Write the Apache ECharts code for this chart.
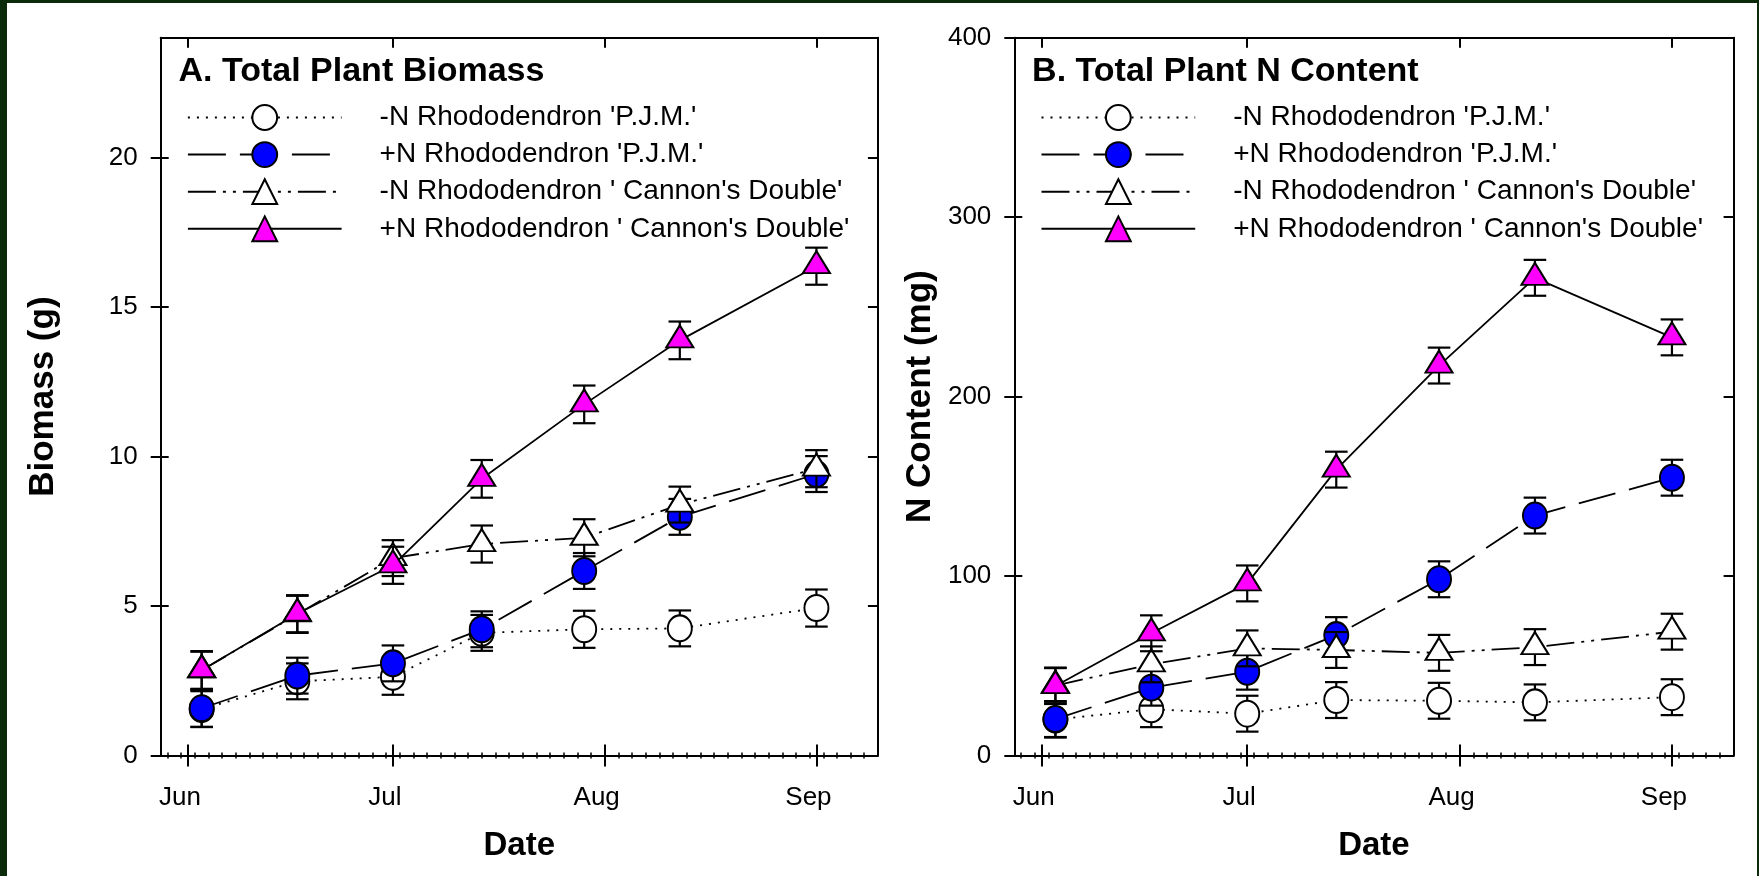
<!DOCTYPE html>
<html><head><meta charset="utf-8">
<script src="https://cdn.jsdelivr.net/npm/echarts@6/dist/echarts.min.js"></script>
<style>
html,body{margin:0;padding:0;background:#fff;}
#chart{position:absolute;left:0;top:0;width:1759px;height:876px;}
#frame{position:absolute;left:0;top:0;width:1759px;height:876px;box-sizing:border-box;border-left:7px solid #0a2a0a;border-top:3px solid #0a2a0a;border-right:2px solid #0a2a0a;pointer-events:none;}
</style></head><body>
<div id="chart"></div><div id="frame"></div>
<script>
// ---------- data ----------
const monthNames = ['Jun', 'Jul', 'Aug', 'Sep'];
const monthStartDay = { May: 121, Jun: 152, Jul: 182, Aug: 213, Sep: 244 };
const sampleDates = ['Jun 3', 'Jun 17', 'Jul 1', 'Jul 14', 'Jul 29', 'Aug 12', 'Sep 1'];
const axisStartDate = 'May 28';
const axisEndDate = 'Sep 10';

const seriesNames = [
  "-N Rhododendron 'P.J.M.'",
  "+N Rhododendron 'P.J.M.'",
  "-N Rhododendron ' Cannon's Double'",
  "+N Rhododendron ' Cannon's Double'"
];
const panelTitles = ['A. Total Plant Biomass', 'B. Total Plant N Content'];
const yAxisTitles = ['Biomass (g)', 'N Content (mg)'];
const xAxisTitle = 'Date';
const biomassTicks = [0, 5, 10, 15, 20];
const nContentTicks = [0, 100, 200, 300, 400];

// Panel A: total plant biomass (g)
const biomassMinusPJM      = [1.55, 2.48, 2.63, 4.10, 4.22, 4.25, 4.93];
const biomassMinusPJMErr   = [0.60, 0.60, 0.60, 0.60, 0.62, 0.60, 0.62];
const biomassPlusPJM       = [1.58, 2.67, 3.08, 4.22, 6.17, 7.98, 9.41];
const biomassPlusPJMErr    = [0.62, 0.60, 0.60, 0.60, 0.60, 0.60, 0.60];
const biomassMinusCD       = [2.85, 4.72, 6.60, 7.07, 7.28, 8.39, 9.59];
const biomassMinusCDErr    = [0.62, 0.62, 0.60, 0.62, 0.62, 0.60, 0.62];
const biomassPlusCD        = [2.85, 4.74, 6.36, 9.25, 11.74, 13.88, 16.36];
const biomassPlusCDErr     = [0.64, 0.62, 0.62, 0.63, 0.63, 0.63, 0.62];

// Panel B: total plant N content (mg)
const nMinusPJM      = [20.0, 25.8, 23.3, 30.9, 30.5, 29.6, 32.5];
const nMinusPJMErr   = [10, 10, 10, 10, 10, 10, 10];
const nPlusPJM       = [20.3, 37.8, 46.7, 67.1, 98.2, 133.7, 154.8];
const nPlusPJMErr    = [10, 10, 10, 10, 10, 10, 10];
const nMinusCD       = [39.0, 50.8, 59.7, 58.8, 57.2, 60.4, 69.0];
const nMinusCDErr    = [10, 10, 10, 10, 10, 10, 10];
const nPlusCD        = [38.7, 68.1, 95.9, 159.3, 217.3, 266.2, 233.0];
const nPlusCDErr     = [10, 10, 10, 10, 10, 10, 10];

// ---------- build ----------
const FONT = "'Liberation Sans', Arial, Helvetica, sans-serif";
const toDay = s => { const [m, d] = s.split(' '); return monthStartDay[m] + Number(d) - 1; };
const days = sampleDates.map(toDay);
const monthDays = monthNames.map(m => monthStartDay[m]);
const X_MIN = toDay(axisStartDate), X_MAX = toDay(axisEndDate);
const minorDays = [];
for (let d = X_MIN + 1; d < X_MAX; d += 2) minorDays.push(d);

const styles = [
  { symbol: 'circle', size: [24, 26], offset: [0, 0], fill: '#ffffff', dash: [2, 7] },
  { symbol: 'circle', size: [24, 26], offset: [0, 0], fill: '#0000ff', dash: [38, 14] },
  { symbol: 'triangle', size: [27, 22], offset: [0, -4], fill: '#ffffff', dash: [28, 7, 3, 7, 3, 7] },
  { symbol: 'triangle', size: [27, 22], offset: [0, -4], fill: '#ff00ff', dash: 'solid' }
];

const panels = [
  { grid: { left: 160.7, top: 37.7, width: 717.2, height: 717.8 }, yMax: 24, yTicks: biomassTicks,
    values: [biomassMinusPJM, biomassPlusPJM, biomassMinusCD, biomassPlusCD],
    errors: [biomassMinusPJMErr, biomassPlusPJMErr, biomassMinusCDErr, biomassPlusCDErr], nameGap: 100 },
  { grid: { left: 1014.3, top: 37.7, width: 719.3, height: 717.8 }, yMax: 400, yTicks: nContentTicks,
    values: [nMinusPJM, nPlusPJM, nMinusCD, nPlusCD],
    errors: [nMinusPJMErr, nPlusPJMErr, nMinusCDErr, nPlusCDErr], nameGap: 76 }
];

const black = { color: '#000', width: 2 };
const grids = [], xAxes = [], yAxes = [], series = [], titles = [], legends = [];

panels.forEach((P, p) => {
  grids.push(Object.assign({ containLabel: false }, P.grid));
  const xBase = { gridIndex: p, type: 'value', min: X_MIN, max: X_MAX, splitLine: { show: false } };
  xAxes.push(Object.assign({}, xBase, {
    position: 'bottom',
    axisLine: { show: true, onZero: false, lineStyle: black },
    axisTick: { show: true, customValues: monthDays, length: 11, lineStyle: black },
    axisLabel: { show: true, customValues: monthDays, formatter: v => monthNames[monthDays.indexOf(v)],
      fontSize: 26, color: '#000', fontFamily: FONT, margin: 29.5, padding: [0, 16, 0, 0] },
    name: xAxisTitle, nameLocation: 'middle', nameGap: 74,
    nameTextStyle: { fontSize: 33, fontWeight: 'bold', color: '#000', fontFamily: FONT }
  }));
  xAxes.push(Object.assign({}, xBase, { position: 'bottom', axisLine: { show: false },
    axisTick: { show: true, inside: true, customValues: monthDays, length: 11, lineStyle: black },
    axisLabel: { show: false } }));
  xAxes.push(Object.assign({}, xBase, { position: 'bottom', axisLine: { show: false },
    axisTick: { show: true, customValues: minorDays, length: 3, lineStyle: { color: '#000', width: 1.5 } },
    axisLabel: { show: false } }));
  xAxes.push(Object.assign({}, xBase, { position: 'bottom', axisLine: { show: false },
    axisTick: { show: true, inside: true, customValues: minorDays, length: 3, lineStyle: { color: '#000', width: 1.5 } },
    axisLabel: { show: false } }));
  xAxes.push(Object.assign({}, xBase, { position: 'top',
    axisLine: { show: true, onZero: false, lineStyle: black },
    axisTick: { show: true, inside: true, customValues: monthDays, length: 10, lineStyle: black },
    axisLabel: { show: false } }));

  const yBase = { gridIndex: p, type: 'value', min: 0, max: P.yMax, splitLine: { show: false } };
  yAxes.push(Object.assign({}, yBase, { position: 'left',
    axisLine: { show: true, onZero: false, lineStyle: black },
    axisTick: { show: true, customValues: P.yTicks, length: 10, lineStyle: black },
    axisLabel: { show: true, customValues: P.yTicks, fontSize: 26, color: '#000', fontFamily: FONT, margin: 23 },
    name: yAxisTitles[p], nameLocation: 'middle', nameGap: P.nameGap,
    nameTextStyle: { fontSize: 35, fontWeight: 'bold', color: '#000', fontFamily: FONT } }));
  yAxes.push(Object.assign({}, yBase, { position: 'left', axisLine: { show: false },
    axisTick: { show: true, inside: true, customValues: P.yTicks, length: 8, lineStyle: black },
    axisLabel: { show: false } }));
  yAxes.push(Object.assign({}, yBase, { position: 'right',
    axisLine: { show: true, onZero: false, lineStyle: black },
    axisTick: { show: true, inside: true, customValues: P.yTicks, length: 10, lineStyle: black },
    axisLabel: { show: false } }));

  titles.push({ text: panelTitles[p], left: P.grid.left + 17.8, top: 55, padding: 0,
    textStyle: { fontSize: 34, fontWeight: 'bold', color: '#000', fontFamily: FONT } });
  legends.push({ data: seriesNames, orient: 'vertical', left: P.grid.left + 26.2, top: 103.5, padding: 0,
    itemWidth: 153.7, itemHeight: 31, itemGap: 9.1, selectedMode: false,
    textStyle: { fontSize: 28, color: '#000', fontFamily: FONT, padding: [0, 0, 0, 33] } });

  P.values.forEach((vals, s) => {
    const st = styles[s], errs = P.errors[s];
    series.push({
      type: 'custom', xAxisIndex: p * 5, yAxisIndex: p * 3, z: 2 + s * 2, silent: true,
      encode: { x: 0, y: [1, 2] },
      data: days.map((d, i) => [d, vals[i] - errs[i], vals[i] + errs[i]]),
      renderItem: (params, api) => {
        const x = api.value(0);
        const top = api.coord([x, api.value(2)]);
        const bot = api.coord([x, api.value(1)]);
        const cap = 11.3;
        const style = { stroke: '#000', lineWidth: 2.2, fill: null };
        return { type: 'group', children: [
          { type: 'line', shape: { x1: top[0], y1: top[1], x2: bot[0], y2: bot[1] }, style },
          { type: 'line', shape: { x1: top[0] - cap, y1: top[1], x2: top[0] + cap, y2: top[1] }, style },
          { type: 'line', shape: { x1: bot[0] - cap, y1: bot[1], x2: bot[0] + cap, y2: bot[1] }, style }
        ] };
      }
    });
    series.push({
      type: 'line', name: seriesNames[s], xAxisIndex: p * 5, yAxisIndex: p * 3, z: 3 + s * 2,
      data: days.map((d, i) => [d, vals[i]]),
      symbol: st.symbol, symbolSize: st.size, symbolOffset: st.offset, showAllSymbol: true,
      itemStyle: { color: st.fill, borderColor: '#000', borderWidth: 2, opacity: 1 },
      lineStyle: { color: '#000', width: 1.8, type: st.dash },
      emphasis: { disabled: true }, silent: true
    });
  });
});

const chart = echarts.init(document.getElementById('chart'), null, { renderer: 'canvas' });
chart.setOption({
  backgroundColor: '#ffffff', animation: false,
  title: titles, legend: legends, grid: grids, xAxis: xAxes, yAxis: yAxes, series: series
});
</script></body></html>
